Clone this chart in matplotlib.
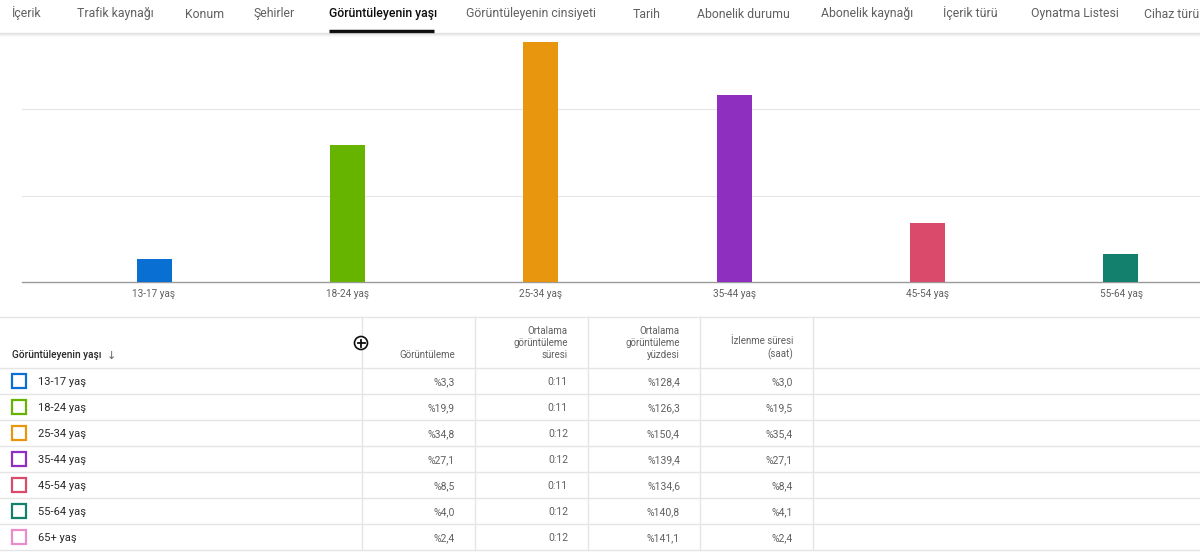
import numpy as np
import matplotlib.pyplot as plt
from matplotlib.patches import Rectangle, Circle

plt.rcParams['font.family'] = ['Roboto', 'DejaVu Sans']

# tabs across the top
tabs = ["İçerik", "Trafik kaynağı", "Konum", "Şehirler", "Görüntüleyenin yaşı",
        "Görüntüleyenin cinsiyeti", "Tarih", "Abonelik durumu", "Abonelik kaynağı",
        "İçerik türü", "Oynatma Listesi", "Cihaz türü"]
tab_x = [12, 77, 185, 254, 329, 466, 633, 697, 821, 943, 1031, 1144]
selected_tab = 4

# data
ages = ["13-17 yaş", "18-24 yaş", "25-34 yaş", "35-44 yaş", "45-54 yaş", "55-64 yaş", "65+ yaş"]
views = [3.3, 19.9, 34.8, 27.1, 8.5, 4.0, 2.4]
avg_duration = ["0:11", "0:11", "0:12", "0:12", "0:11", "0:12", "0:12"]
avg_percent = [128.4, 126.3, 150.4, 139.4, 134.6, 140.8, 141.1]
watch_time = [3.0, 19.5, 35.4, 27.1, 8.4, 4.1, 2.4]
colors = ["#0a6fd2", "#66b300", "#e8960e", "#8f2fbf", "#d94a6b", "#13806e", "#e98ccb"]

headers = ["Görüntüleme", "Ortalama\ngörüntüleme\nsüresi",
           "Ortalama\ngörüntüleme\nyüzdesi", "İzlenme süresi\n(saat)"]


def pct(v):
    return "%" + f"{v:.1f}".replace(".", ",")


W, H = 1200, 553
fig = plt.figure(figsize=(W / 100, H / 100), dpi=100)

# bar chart area (pixel layout from the screenshot)
base_y, top_y, left_x = 282, 33, 22
px_per_unit = 6.9
step, first_x = 193.4, 154
ax = fig.add_axes([left_x / W, (H - base_y) / H, (W - left_x) / W, (base_y - top_y) / H])
x = np.arange(len(ages))
ax.bar(x, views, width=35 / step, color=colors, zorder=3)
ax.set_xticks(x)
ax.set_xticklabels(ages, fontsize=7.2, color="#606060")
ax.tick_params(axis="x", length=0, pad=5)
ax.set_yticks([12.5, 25])
ax.tick_params(axis="y", length=0, labelleft=False)
# the 65+ bar sits past the right edge of the view, as in the screenshot
ax.set_xlim((left_x - first_x) / step, (W - first_x) / step)
ax.set_ylim(0, (base_y - top_y) / px_per_unit)
ax.grid(axis="y", color="#e6e6e6", linewidth=0.8, zorder=0)
for s in ["top", "right", "left"]:
    ax.spines[s].set_visible(False)
ax.spines["bottom"].set_color("#9a9a9a")
ax.spines["bottom"].set_linewidth(1)

# overlay in pixel coordinates for tabs and table
ov = fig.add_axes([0, 0, 1, 1], facecolor="none")
ov.set_xlim(0, W)
ov.set_ylim(H, 0)
ov.axis("off")

for i, (t, tx) in enumerate(zip(tabs, tab_x)):
    sel = i == selected_tab
    ov.text(tx, 17.5, t, fontsize=8.8, va="baseline", ha="left",
            color="#0d0d0d" if sel else "#606060",
            fontweight="medium" if sel else "normal")
ov.plot([tab_x[selected_tab], 434], [31, 31], color="#0d0d0d", lw=2.5,
        solid_capstyle="butt")
for k, a in enumerate([0.25, 0.15, 0.08, 0.04]):
    ov.plot([0, W], [33 + k, 33 + k], color="#999999", lw=1, alpha=a)

# table
line_c = "#e5e5e5"
table_top, head_bot, row_h = 317, 368, 26
col_lines = [362, 475, 588, 700, 813]
n = len(ages)
table_bot = head_bot + n * row_h
ov.plot([0, W], [table_top, table_top], color=line_c, lw=1)
for r in range(n + 1):
    yy = head_bot + r * row_h
    ov.plot([0, W], [yy, yy], color=line_c, lw=1)
for cx in col_lines:
    ov.plot([cx, cx], [table_top, table_bot], color=line_c, lw=1)

ov.text(12, 358.5, "Görüntüleyenin yaşı", fontsize=7.3, va="baseline", ha="left",
        color="#282828", fontweight="medium")
ov.text(107, 358.5, "↓", fontsize=8, va="baseline", ha="left", color="#606060")
for j, h in enumerate(headers):
    ov.text(col_lines[j + 1] - 20, 360, h, fontsize=7.0, va="bottom", ha="right",
            color="#606060", linespacing=1.25, multialignment="right")

# add-metric button
ov.add_patch(Circle((361, 343), 6.5, fill=True, facecolor="white",
                    edgecolor="#0d0d0d", lw=1.2, zorder=5))
ov.plot([357.5, 364.5], [343, 343], color="#0d0d0d", lw=1.3, zorder=6)
ov.plot([361, 361], [339.5, 346.5], color="#0d0d0d", lw=1.3, zorder=6)

for r in range(n):
    yc = head_bot + r * row_h + row_h / 2
    ov.add_patch(Rectangle((12, yc - 7), 14, 14, facecolor="white",
                           edgecolor=colors[r], lw=1.6))
    ov.text(38, yc + 4, ages[r], fontsize=8, va="baseline", ha="left", color="#282828")
    cells = [pct(views[r]), avg_duration[r], pct(avg_percent[r]), pct(watch_time[r])]
    for j, c in enumerate(cells):
        ov.text(col_lines[j + 1] - 20, yc + 4, c, fontsize=7.5, va="baseline", ha="right",
                color="#606060")

fig.savefig("out.png", dpi=100)
